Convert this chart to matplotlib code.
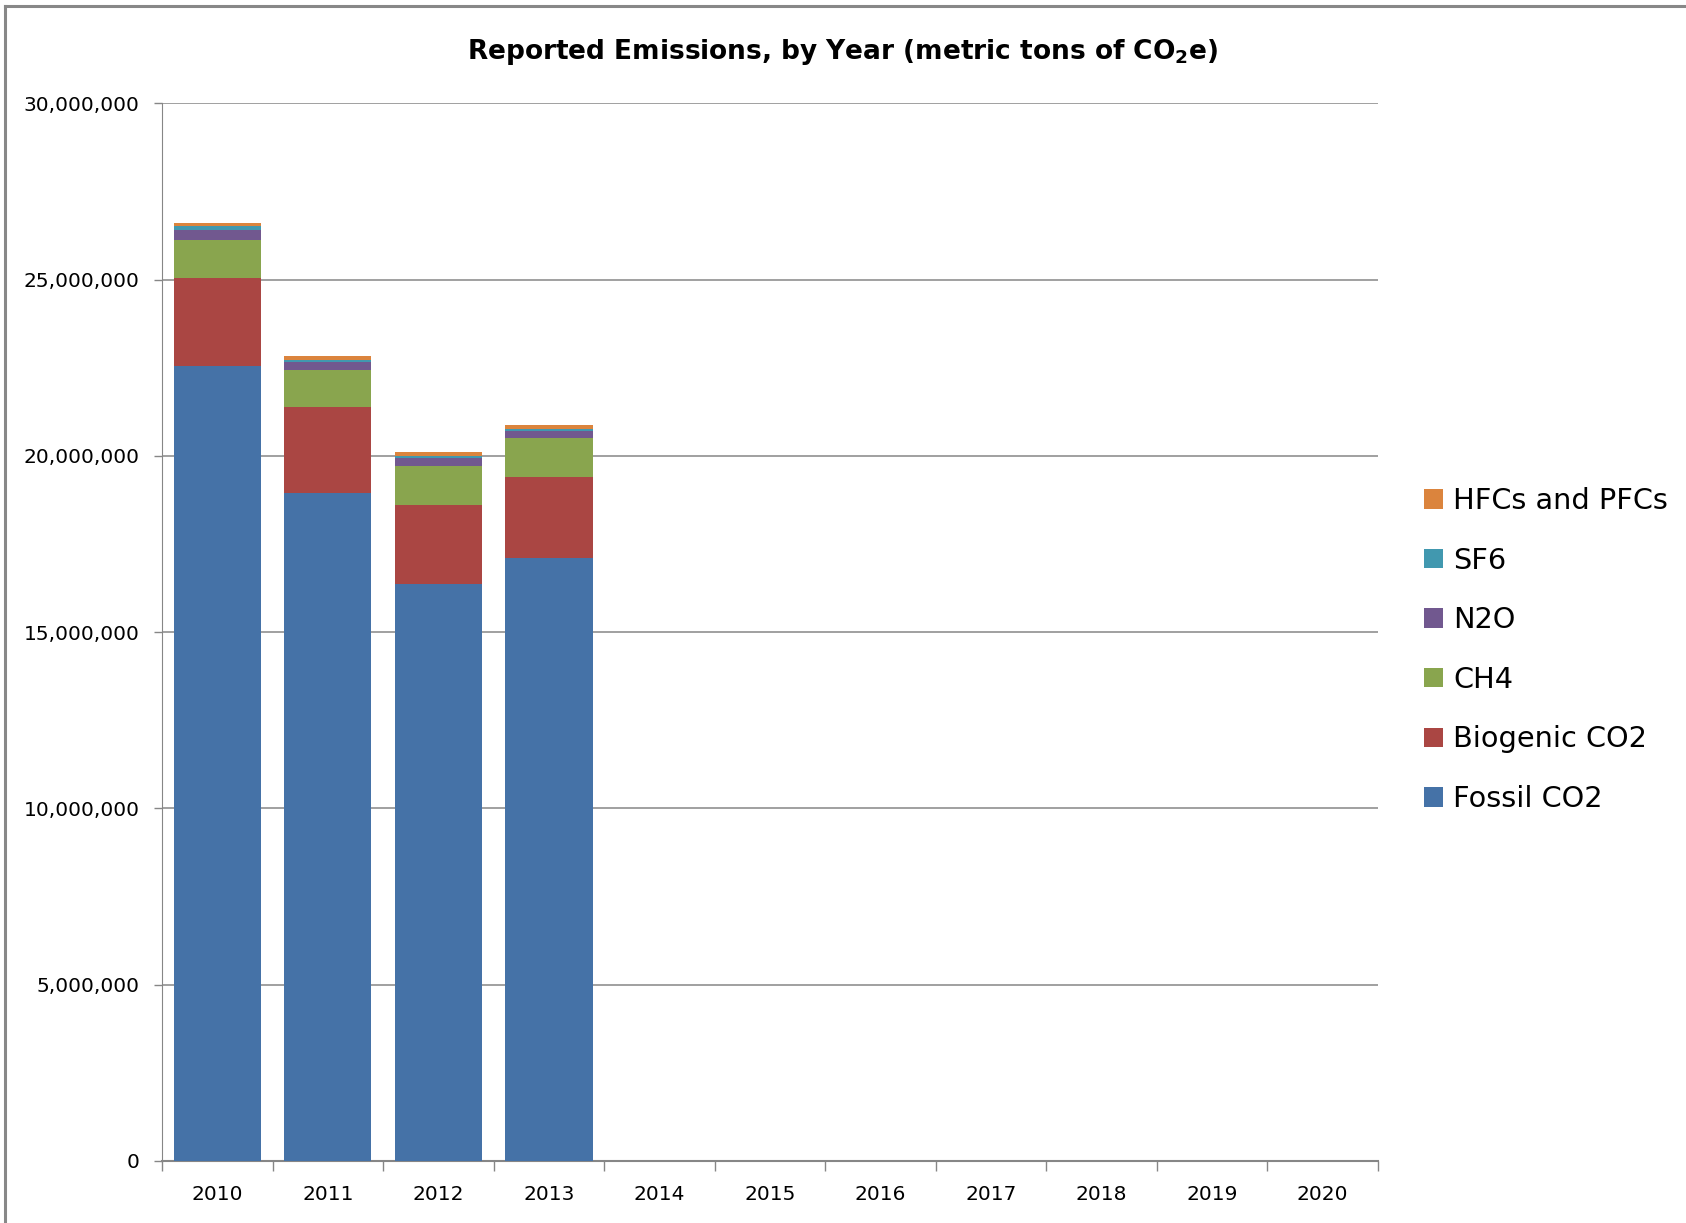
import numpy as np
import matplotlib
matplotlib.use('Agg')
import matplotlib.pyplot as plt
import matplotlib.ticker as ticker
from matplotlib.patches import Patch
from matplotlib.lines import Line2D

years = ['2010', '2011', '2012', '2013', '2014', '2015', '2016', '2017', '2018', '2019', '2020']

# values in metric tons CO2e, only 2010-2013 reported
fossil_co2   = [22550000, 18960000, 16370000, 17090000]
biogenic_co2 = [2490000, 2430000, 2240000, 2310000]
ch4          = [1080000, 1050000, 1100000, 1100000]
n2o          = [280000, 230000, 230000, 200000]
sf6          = [110000, 60000, 60000, 60000]
hfcs_pfcs    = [85000, 110000, 110000, 110000]

series = ['Fossil CO2', 'Biogenic CO2', 'CH4', 'N2O', 'SF6', 'HFCs and PFCs']

###color scheme###
colors = ['#4572A7', '#AA4643', '#89A54E', '#71588F', '#4198AF', '#DB843D']
grid_grey = '#868686'

plt.rcParams['font.family'] = ['DejaVu Sans']

fig = plt.figure(figsize=(16.86, 12.23), dpi=100)
ax = fig.add_axes([162/1686, 1 - 1161/1223, (1378-162)/1686, (1161-103.3)/1223])

x = np.arange(len(fossil_co2))
bottom = np.zeros(len(fossil_co2))
for vals, c in zip([fossil_co2, biogenic_co2, ch4, n2o, sf6, hfcs_pfcs], colors):
    ax.bar(x, vals, width=0.79, bottom=bottom, color=c, linewidth=0, zorder=3)
    bottom = bottom + np.array(vals)

ax.set_xlim(-0.5, len(years) - 0.5)
ax.set_ylim(0, 30000000)

# y axis
ax.yaxis.set_major_locator(ticker.MultipleLocator(5000000))
ax.yaxis.set_major_formatter(ticker.FuncFormatter(lambda v, p: '{:,.0f}'.format(v)))
ax.yaxis.grid(True, color=grid_grey, linewidth=1.1, zorder=0)
ax.tick_params(axis='y', length=6, width=1, color=grid_grey, pad=10, labelsize=14.5)

# x axis: ticks between categories, labels centered
ax.xaxis.set_major_locator(ticker.FixedLocator(np.arange(-0.5, len(years), 1.0)))
ax.xaxis.set_major_formatter(ticker.NullFormatter())
ax.xaxis.set_minor_locator(ticker.FixedLocator(np.arange(len(years))))
ax.xaxis.set_minor_formatter(ticker.FixedFormatter(years))
ax.tick_params(axis='x', which='major', length=7, width=1, color=grid_grey)
ax.tick_params(axis='x', which='minor', length=0, pad=17, labelsize=14.5)

for s in ['top', 'right']:
    ax.spines[s].set_visible(False)
ax.spines['left'].set_color(grid_grey)
ax.spines['left'].set_linewidth(0.8)
ax.spines['bottom'].set_color(grid_grey)
ax.spines['bottom'].set_linewidth(1.5)

fig.text(0.5, 1 - 52/1223, r'Reported Emissions, by Year (metric tons of CO$_\mathbf{2}$e)',
         ha='center', va='center', fontsize=19, fontweight='bold')

# legend, reversed order like the original
handles = [Patch(facecolor=c, edgecolor='none') for c in colors][::-1]
fig.legend(handles, series[::-1], loc='center left',
           bbox_to_anchor=(1424/1686, 1 - 650/1223), frameon=False,
           fontsize=20.7, handlelength=0.66, handleheight=0.66,
           handletextpad=0.35, labelspacing=1.1, borderpad=0, borderaxespad=0)

# outer chart border (left and top visible)
fig.add_artist(Line2D([5/1686, 5/1686], [0, 1 - 6/1223], color='#888888', linewidth=2.2))
fig.add_artist(Line2D([5/1686, 1], [1 - 6/1223, 1 - 6/1223], color='#888888', linewidth=2.2))

plt.savefig('out.png', dpi=100)
plt.close()
